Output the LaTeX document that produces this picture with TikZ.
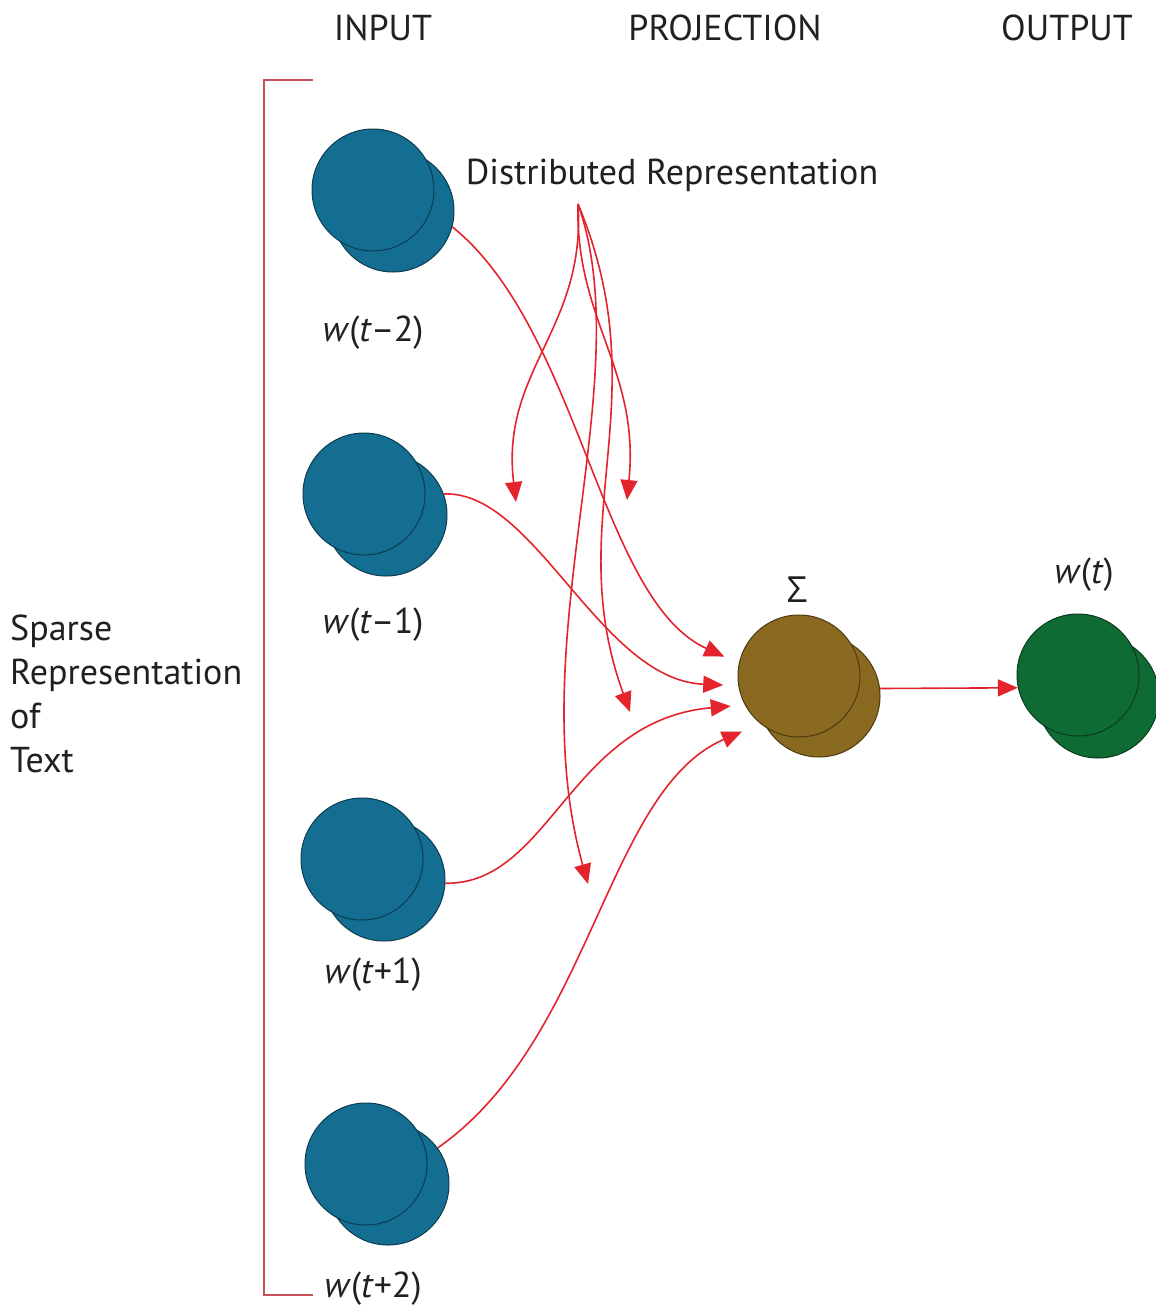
\documentclass[tikz,border=0pt]{standalone}
\usepackage{fontspec}
\setmainfont{PT Sans}
\newfontfamily\greekfont{Open Sans}
\usetikzlibrary{arrows.meta}
\definecolor{nodeblue}{RGB}{20,110,146}
\definecolor{nodebrown}{RGB}{138,106,32}
\definecolor{nodegreen}{RGB}{15,107,52}
\definecolor{linkred}{RGB}{228,36,44}
\definecolor{bracketred}{RGB}{200,80,92}
\definecolor{ink}{RGB}{35,31,32}

\begin{document}
\begin{tikzpicture}[x=1pt,y=-1pt,
  disc/.style={circle, inner sep=0pt, minimum size=122pt, fill=#1, draw=#1!55!black, line width=1pt},
  link/.style={draw=linkred, line width=1.6pt, -{Triangle[length=20pt,width=17pt]}},
  lbl/.style={text=ink, font=\fontsize{36}{44}\selectfont, inner sep=0pt},
]
\useasboundingbox (0,0) rectangle (1156,1309);

% column headings
\node[lbl] (hin)   at (383,28)  {INPUT};
\node[lbl] (hproj) at (725,28)  {PROJECTION};
\node[lbl] (hout)  at (1067,28) {OUTPUT};

% bracket grouping the input words
\draw[bracketred, line width=2pt] (313,80) -- (264,80) -- (264,1295) -- (313,1295);
\node[lbl, anchor=west, align=left] (sparse) at (10,694)
  {Sparse\\Representation\\of\\Text};

% input word vectors (back disc, then front disc)
\node[disc=nodeblue] (b2)  at (393,211)  {};
\node[disc=nodeblue] (f2)  at (373,190)  {};
\node[disc=nodeblue] (b1)  at (386,515)  {};
\node[disc=nodeblue] (f1)  at (364,494)  {};
\node[disc=nodeblue] (bp1) at (384,880)  {};
\node[disc=nodeblue] (fp1) at (362,859)  {};
\node[disc=nodeblue] (bp2) at (388,1184) {};
\node[disc=nodeblue] (fp2) at (366,1164) {};

\node[lbl] (l2)  at (373,333)  {\textit{w}(\textit{t}\kern-1pt--\kern-1pt2)};
\node[lbl] (l1)  at (373,625)  {\textit{w}(\textit{t}\kern-1pt--\kern-1pt1)};
\node[lbl] (lp1) at (373,975)  {\textit{w}(\textit{t}+1)};
\node[lbl] (lp2) at (373,1289) {\textit{w}(\textit{t}+2)};

% projection (sum) and output
\node[disc=nodebrown] (sb) at (819,696) {};
\node[disc=nodebrown] (sf) at (799,676) {};
\node[lbl] (lsum) at (797,590) {\greekfont Σ};

\node[disc=nodegreen] (wb) at (1098,697) {};
\node[disc=nodegreen] (wf) at (1078,675) {};
\node[lbl] (lwt) at (1084,575) {\textit{w}(\textit{t})};

% distributed representation
\node[lbl] (dist) at (672,175) {Distributed Representation};
\coordinate (src) at (578,204);
\coordinate (tA) at (516,502);
\coordinate (tB) at (627,500);
\coordinate (tC) at (630,712);
\coordinate (tD) at (588,884);

\draw[link] (src) .. controls (586,330) and (500,370) .. (tA);
\draw[link] (src) .. controls (575,320) and (640,370) .. (tB);
\draw[link] (src) .. controls (660,400) and (560,520) .. (tC);
\draw[link] (src) .. controls (640,380) and (520,640) .. (tD);

% context words into the projection
\draw[link, shorten >=16pt] (b2.-15) .. controls (580,330) and (600,600) .. (sf.168);
\draw[link, shorten >=15pt] (b1.20) .. controls (535,490) and (600,680) .. (sf.189);
\draw[link, shorten >=14pt] (bp1.-3) .. controls (550,885) and (570,720) .. (sf.208);
\draw[link, shorten >=20pt] (bp2.36) .. controls (592,1040) and (606,790) .. (sf.231);

% projection to output
\draw[link] (sb.7) -- (wf.192);
\end{tikzpicture}
\end{document}
